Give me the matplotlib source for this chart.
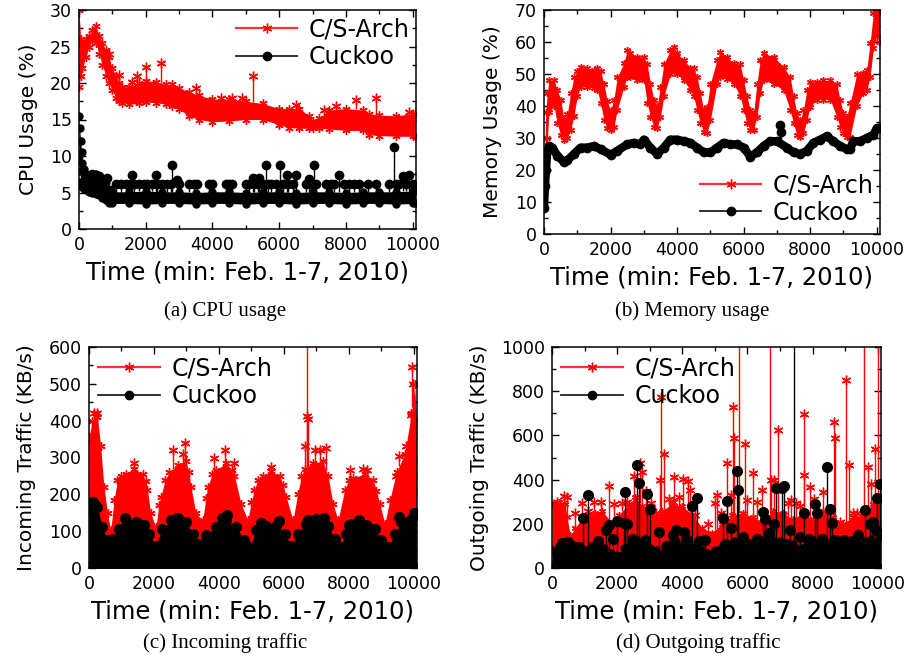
import numpy as np
import matplotlib
matplotlib.use('Agg')
import matplotlib.pyplot as plt
from matplotlib.lines import Line2D
from matplotlib.ticker import MultipleLocator

plt.rcParams['font.family'] = ['DejaVu Sans']

# ---------------- (a) CPU usage (%) ----------------
cpu_cs_t = [0, 50, 100, 200, 300, 400, 500, 600, 700, 800, 900, 1000, 1100, 1200, 1300, 1500, 1800, 2000,
            2300, 2600, 2800, 3000, 3300, 3600, 4000, 4500, 5000, 5500, 6000, 6300, 6600, 6900, 7000, 7200,
            7500, 8000, 8500, 8700, 9000, 9500, 10000, 10080]
cpu_cs_hi = [30, 26, 25.5, 26, 26.5, 27.3, 27.8, 26.5, 25.5, 24.5, 23.5, 22, 21, 20, 19.5, 19.5, 20, 20.3,
             20.2, 19.8, 19.8, 19.3, 18.8, 18.3, 17.8, 17.8, 17.5, 17.2, 16.5, 16.5, 16.5, 15.5, 14.8, 15.2,
             16.3, 16.5, 16.3, 15.8, 15.6, 15.5, 15.8, 15.8]
cpu_cs_lo = [19.5, 21, 22, 23.5, 25, 25.8, 25.5, 24, 22.5, 21, 20, 19, 18, 17.6, 17.3, 17.1, 17.2, 17.4,
             17.3, 17.1, 16.9, 16.4, 15.5, 15, 14.7, 14.8, 15, 15, 14.3, 13.9, 13.8, 13.8, 13.8, 13.8,
             13.7, 13.5, 13.5, 12.9, 12.8, 12.7, 12.7, 12.7]
cpu_cs_spk_t = [900, 1200, 1600, 1750, 2000, 2450, 3500, 4250, 4600, 4900, 5200, 6500, 7350, 7700, 8300, 8900, 9900]
cpu_cs_spk_v = [24, 21.1, 20.2, 21, 22.2, 22.8, 19.3, 18, 17.9, 17.9, 21, 17, 16.3, 16.8, 17.7, 18, 16]

cpu_ck_t = [0, 20, 50, 80, 100, 150, 200, 300, 400, 500, 600, 700, 800, 900, 1000, 1500, 2000, 2500,
            3000, 3500, 4000, 4500, 5000, 5500, 6000, 6500, 7000, 7500, 8000, 8500, 9000, 9500, 10000, 10080]
cpu_ck_hi = [15.5, 13.8, 12, 10.5, 9, 8.2, 7.5, 7, 7.2, 7.5, 7, 6.8, 6.5, 5.5, 5.1, 5.1, 5.2, 5.1,
             5.1, 5.0, 5.1, 5.1, 5.0, 5.1, 5.1, 5.0, 5.1, 5.1, 5.0, 5.1, 5.1, 5.1, 5.2, 5.2]
cpu_ck_lo = [10, 8, 6.5, 6, 5.8, 5.5, 5.3, 5.1, 5, 4.8, 4.6, 4.3, 4, 3.6, 3.5, 3.5, 3.4, 3.5,
             3.5, 3.4, 3.5, 3.5, 3.4, 3.5, 3.5, 3.4, 3.5, 3.5, 3.4, 3.5, 3.5, 3.4, 3.5, 3.5]
cpu_ck_spk_t = [400, 600, 850, 1100, 1250, 1400, 1550, 1600, 1650, 1800, 1950, 2050, 2200, 2320, 2350, 2500,
                2650, 2750, 2800, 2950, 3000, 3300, 3450, 3550, 3900, 4000, 4400, 4500, 4600, 5000, 5100,
                5200, 5250, 5350, 5400, 5500, 5600, 5650, 5750, 5900, 6030, 6100, 6220, 6250, 6400, 6500,
                6800, 6900, 6950, 7030, 7100, 7400, 7550, 7650, 7800, 7950, 8100, 8250, 8400, 8650, 8900,
                9300, 9430, 9500, 9600, 9700, 9800, 9900, 10000]
cpu_ck_spk_v = [7.6, 7.2, 7.0, 6.2, 6.2, 6.2, 6.2, 7.4, 6.2, 6.2, 6.2, 6.2, 6.2, 7.4, 6.2, 6.2,
                6.2, 6.2, 8.8, 6.7, 6.2, 6.2, 6.2, 6.2, 6.2, 6.2, 6.2, 6.2, 6.2, 6.2, 6.2,
                7.0, 6.2, 6.2, 7.0, 6.2, 8.8, 6.2, 6.2, 6.2, 8.8, 6.2, 7.4, 6.2, 6.2, 7.4,
                6.2, 6.8, 6.2, 8.8, 6.2, 6.2, 6.2, 6.2, 7.4, 6.2, 6.2, 6.2, 6.2, 6.2, 6.2,
                6.2, 11.3, 6.2, 6.2, 7.2, 6.2, 7.4, 6.2]

# ---------------- (b) Memory usage (%) ----------------
mem_cs_t = [0, 50, 100, 150, 300, 400, 500, 600, 700, 800, 900, 1000, 1100, 1300, 1500, 1600, 1700, 1800,
            1900, 2000, 2100, 2200, 2400, 2500, 2600, 2800, 3000, 3100, 3200, 3300, 3400, 3500, 3600, 3800,
            3900, 4000, 4200, 4400, 4500, 4600, 4700, 4800, 4900, 5000, 5200, 5300, 5500, 5700, 5900, 6000,
            6100, 6200, 6300, 6400, 6500, 6600, 6900, 7200, 7400, 7500, 7600, 7700, 7800, 7900, 8000, 8200,
            8400, 8600, 8800, 8900, 9000, 9100, 9200, 9400, 9600, 9700, 9800, 9900, 10000, 10080]
mem_cs_hi = [12, 38, 44, 48, 48, 45, 42, 36, 37.5, 44, 49, 51, 52.3, 51.8, 51.3, 51.8, 51, 47,
             41.5, 38.7, 41.9, 49, 53.3, 57.5, 56.5, 55.4, 55.4, 53, 47, 42, 40, 46, 53, 57.5,
             58.5, 56.5, 54.4, 52, 52, 49, 44, 38.7, 39.8, 47, 54.4, 57, 55.4, 53.3, 53, 48,
             43, 38.7, 37.7, 47, 54.4, 56.5, 55.4, 52.3, 49, 43, 37.7, 35.6, 38.7, 45, 47.6, 47.6,
             48, 48, 47, 41.9, 37.7, 36.7, 40.8, 50, 50.2, 51.3, 59.6, 69, 70, 69]
mem_cs_lo = [8, 20, 30, 38, 40, 34.6, 31, 29.5, 30, 32.5, 37, 43, 46, 46, 45.5, 45, 41, 35.6,
             33, 32.5, 33.5, 38.7, 46, 49, 49, 48, 48, 41, 36.7, 33.5, 33, 36.7, 43, 50,
             51, 50, 48, 45, 43, 38.7, 34.6, 32, 31.5, 35.6, 47, 49, 48.5, 47, 43, 38.7,
             34.6, 32.5, 32.5, 36.7, 44, 48, 47, 45, 38.7, 34.6, 31, 30.4, 31.5, 35.6, 39.8, 42,
             42, 42, 36.7, 33.5, 31.5, 30.4, 30.4, 40, 44, 45, 49, 58, 62, 60]

mem_ck_t = [0, 30, 60, 100, 150, 250, 400, 600, 700, 900, 1100, 1300, 1500, 1700, 2000, 2200, 2500, 2700,
            2900, 3000, 3200, 3400, 3600, 3800, 4000, 4200, 4400, 4600, 4800, 5000, 5200, 5400, 5600, 5800,
            6000, 6200, 6400, 6600, 6800, 7000, 7300, 7500, 7700, 7900, 8100, 8300, 8500, 8700, 8900, 9100,
            9200, 9300, 9500, 9700, 9900, 10000, 10080]
mem_ck_v = [8, 15, 20, 26, 27.5, 27, 24.5, 22.5, 23, 25, 27, 27, 27.5, 26.5, 24.8, 26, 28, 28.5,
            28, 29.5, 27, 25, 27, 29.5, 29.5, 29, 28.5, 27, 25.5, 25.5, 27, 28.5, 28, 28,
            27, 24.2, 25.5, 27.5, 29, 29, 27, 25.5, 25, 26, 28.5, 29.5, 30.5, 29, 27.5, 26.5,
            26.5, 29, 29, 30, 31, 33, 33]
mem_ck_spk_t = [7100, 7130]
mem_ck_spk_v = [34.2, 32.0]

# ---------------- (c) Incoming traffic (KB/s) ----------------
in_cs_t = [0, 100, 260, 360, 460, 570, 670, 770, 875, 1000, 1130, 1390, 1650, 1750, 1800, 1900, 2060, 2150,
           2210, 2350, 2470, 2730, 2980, 3080, 3140, 3290, 3500, 3600, 3650, 3800, 3910, 4220, 4400, 4480,
           4680, 4890, 5000, 5090, 5200, 5350, 5610, 5870, 5980, 6070, 6280, 6430, 6540, 6640, 6900, 7200,
           7360, 7510, 7670, 7870, 8000, 8130, 8490, 8750, 8850, 8950, 9110, 9260, 9470, 9720, 9930, 10030,
           10080]
in_cs_v = [355, 400, 410, 330, 220, 148, 102, 184, 238, 250, 255, 270, 255, 235, 211, 148, 111, 170,
           193, 240, 260, 280, 290, 260, 220, 148, 130, 190, 220, 255, 265, 285, 265, 250,
           175, 130, 180, 211, 240, 250, 262, 250, 225, 193, 130, 202, 250, 270, 285, 290,
           250, 175, 130, 211, 240, 245, 255, 240, 210, 175, 120, 184, 260, 310, 420, 500,
           400]
in_cs_spk_t = [150, 260, 1400, 2600, 2900, 2950, 3850, 4200, 4450, 5600, 6650, 6700, 6710, 6750, 6950,
               7100, 7300, 8050, 8450, 8550, 9450, 9550, 9750, 9900, 9950, 9970]
in_cs_spk_v = [420, 420, 285, 320, 310, 340, 300, 320, 285, 275, 330, 412, 650, 405, 320,
               320, 325, 265, 270, 265, 250, 305, 330, 415, 545, 500]

in_ck_t = [0, 100, 260, 410, 570, 720, 930, 1180, 1440, 1700, 1850, 2060, 2260, 2520, 2730, 2980, 3190,
           3400, 3600, 3910, 4220, 4530, 4780, 4940, 5150, 5450, 5760, 6020, 6230, 6430, 6690, 7100, 7360,
           7560, 7720, 7920, 8230, 8540, 8800, 9000, 9210, 9420, 9620, 9880, 10080]
in_ck_v = [157, 175, 166, 111, 75, 80, 107, 122, 125, 116, 93, 61, 107, 130, 135, 125, 93,
           66, 89, 111, 130, 111, 75, 57, 102, 115, 115, 93, 61, 93, 120, 125, 115,
           80, 57, 93, 115, 118, 107, 75, 57, 93, 125, 130, 145]
in_ck_spk_t = [110, 160, 1100, 1550, 2700, 4100, 4250, 5300, 5850, 6750, 7000, 7250, 8000, 8100, 8300,
               8600, 9550, 10000]
in_ck_spk_v = [180, 175, 135, 120, 137, 135, 145, 122, 127, 130, 132, 137, 117, 120, 130, 112, 138, 148]

# ---------------- (d) Outgoing traffic (KB/s) ----------------
out_cs_t = [0, 200, 400, 460, 560, 720, 920, 1130, 1330, 1540, 1850, 2050, 2360, 2560, 2770, 3080, 3390,
            3690, 4000, 4310, 4620, 4920, 5230, 5540, 5850, 6160, 6460, 6770, 7080, 7390, 7700, 8000,
            8310, 8620, 8930, 9230, 9540, 9850, 10080]
out_cs_v = [290, 300, 290, 230, 150, 180, 230, 240, 250, 260, 200, 240, 290, 320, 280, 230, 260,
            290, 280, 240, 180, 160, 200, 240, 250, 230, 210, 260, 250, 220, 250, 220,
            260, 230, 200, 230, 240, 290, 310]
out_cs_spk_t = [150, 370, 450, 700, 930, 1100, 1300, 1500, 1750, 1900, 2160, 2300, 2520, 2700, 2760, 2900,
                3030, 3200, 3310, 3340, 3440, 3600, 3720, 3750, 3900, 4010, 4160, 4230, 4400, 4800, 5010,
                5050, 5200, 5360, 5500, 5560, 5580, 5750, 5910, 6000, 6160, 6300, 6450, 6500, 6690, 6720,
                6830, 6950, 7100, 7260, 7340, 7490, 7600, 7730, 7750, 7930, 8050, 8320, 8450, 8670, 8700,
                8850, 9030, 9110, 9240, 9350, 9570, 9700, 9800, 9920, 10000]
out_cs_spk_v = [300, 327, 320, 250, 292, 260, 300, 300, 370, 290, 292, 300, 417, 477, 435, 350,
                292, 250, 398, 774, 515, 310, 300, 413, 320, 402, 393, 352, 240, 200, 292,
                330, 250, 473, 330, 729, 586, 1100, 563, 307, 431, 300, 355, 250, 1100, 398,
                400, 623, 240, 292, 307, 292, 280, 420, 699, 367, 310, 342, 250, 661, 590,
                210, 852, 465, 247, 250, 1100, 455, 380, 538, 1100]

out_ck_t = [0, 200, 400, 600, 800, 1000, 1200, 1400, 1600, 1800, 2000, 2200, 2400, 2600, 2800, 3000, 3200,
            3400, 3600, 3800, 4000, 4200, 4400, 4600, 4800, 5000, 5200, 5400, 5600, 5800, 6000, 6200,
            6400, 6600, 6800, 7000, 7200, 7400, 7600, 7800, 8000, 8200, 8400, 8600, 8800, 9000, 9200,
            9400, 9600, 9800, 10080]
out_ck_v = [80, 100, 110, 90, 70, 80, 100, 110, 90, 70, 60, 90, 110, 120, 100, 90, 80,
            70, 110, 120, 100, 110, 100, 80, 70, 80, 90, 110, 120, 110, 90, 80,
            110, 130, 120, 120, 100, 110, 90, 100, 120, 120, 110, 120, 100, 90, 100,
            110, 120, 130, 140]
out_ck_spk_t = [300, 360, 500, 660, 820, 960, 1090, 1400, 1650, 1750, 1880, 2010, 2210, 2240, 2300, 2450,
                2600, 2670, 2850, 2930, 3000, 3270, 3500, 3700, 3800, 4060, 4100, 4290, 4450, 4500, 4700,
                5240, 5300, 5360, 5500, 5670, 5710, 5850, 6100, 6300, 6470, 6550, 6650, 6800, 6880, 7050,
                7120, 7200, 7320, 7440, 7600, 7750, 7900, 8080, 8150, 8300, 8450, 8520, 8600, 8700, 8950,
                9200, 9400, 9600, 9750, 9850, 9950, 9980, 10080]
out_ck_spk_v = [111, 115, 119, 100, 95, 224, 330, 120, 170, 195, 130, 214, 202, 345, 200, 130,
                465, 385, 125, 334, 267, 164, 100, 150, 170, 161, 130, 280, 315, 120, 125,
                227, 110, 303, 180, 438, 352, 140, 110, 130, 254, 220, 160, 200, 364, 364,
                370, 110, 172, 1100, 140, 247, 130, 289, 250, 130, 455, 269, 205, 125, 125,
                120, 150, 262, 199, 210, 170, 315, 380]

# ---------------- drawing ----------------
RED = '#ff0000'
STAR = (6, 2, 0)
W, H = 908, 663
fig = plt.figure(figsize=(W / 100, H / 100), dpi=100)


def add_axes(l, r, t, b):
    return fig.add_axes([l / W, 1 - b / H, (r - l) / W, (b - t) / H])


def style(ax, ymax, ymaj, ymin, ylabel):
    ax.set_xlim(0, 10100)
    ax.set_ylim(0, ymax)
    ax.xaxis.set_major_locator(MultipleLocator(2000))
    ax.xaxis.set_minor_locator(MultipleLocator(1000))
    ax.yaxis.set_major_locator(MultipleLocator(ymaj))
    ax.yaxis.set_minor_locator(MultipleLocator(ymin))
    ax.tick_params(which='both', direction='in', top=True, right=True, width=1)
    ax.tick_params(which='major', length=5, labelsize=12.5, pad=5)
    ax.tick_params(which='minor', length=3)
    for s in ax.spines.values():
        s.set_linewidth(1.1)
    ax.set_xlabel('Time (min: Feb. 1-7, 2010)', fontsize=17.5, labelpad=5)
    ax.set_ylabel(ylabel, fontsize=14.5, labelpad=9)


def band(ax, t, lo, hi, color, marker, ms, z):
    ax.fill_between(t, lo, hi, color=color, lw=0, zorder=z)
    ax.plot(t, hi, ls='none', marker=marker, color=color, ms=ms, mew=1, zorder=z)
    ax.plot(t, lo, ls='none', marker=marker, color=color, ms=ms, mew=1, zorder=z)


def spikes(ax, t, v, base_t, base_v, color, marker, ms, z):
    b = np.interp(t, base_t, base_v)
    ax.vlines(t, b, v, color=color, lw=1, zorder=z)
    ax.plot(t, v, ls='none', marker=marker, color=color, ms=ms, mew=1, zorder=z)


def legend(ax, **kw):
    h = [Line2D([], [], color='#ff3030', marker=STAR, ms=7, mew=1, mec=RED, lw=1.6),
         Line2D([], [], color='#202020', marker='o', ms=6, lw=1.3, mfc='black', mec='black')]
    ax.legend(h, ['C/S-Arch', 'Cuckoo'], frameon=False, fontsize=17, handlelength=2.6,
              handletextpad=0.5, labelspacing=0.15, borderpad=0.2, borderaxespad=0.2, **kw)


# (a)
ax = add_axes(79, 416, 10, 229)
band(ax, cpu_cs_t, cpu_cs_lo, cpu_cs_hi, RED, STAR, 6, 2)
spikes(ax, cpu_cs_spk_t, cpu_cs_spk_v, cpu_cs_t, cpu_cs_hi, RED, STAR, 7, 2)
band(ax, cpu_ck_t, cpu_ck_lo, cpu_ck_hi, 'black', 'o', 5, 3)
spikes(ax, cpu_ck_spk_t, cpu_ck_spk_v, cpu_ck_t, cpu_ck_hi, 'black', 'o', 6, 3)
style(ax, 30, 5, 2.5, 'CPU Usage (%)')
legend(ax, loc='upper right', bbox_to_anchor=(1.01, 1.01))

# (b)
ax = add_axes(544, 880, 10, 234)
band(ax, mem_cs_t, mem_cs_lo, mem_cs_hi, RED, STAR, 5, 2)
ax.plot(mem_ck_t, mem_ck_v, color='black', lw=6, marker='o', ms=6, solid_capstyle='round', zorder=3)
spikes(ax, mem_ck_spk_t, mem_ck_spk_v, mem_ck_t, mem_ck_v, 'black', 'o', 6, 3)
style(ax, 70, 10, 5, 'Memory Usage (%)')
legend(ax, loc='lower right', bbox_to_anchor=(1.01, 0.0))

# (c)
ax = add_axes(89, 417, 347, 568)
zeros_c = [0] * len(in_cs_t)
band(ax, in_cs_t, zeros_c, in_cs_v, RED, STAR, 6, 2)
spikes(ax, in_cs_spk_t, in_cs_spk_v, in_cs_t, in_cs_v, RED, STAR, 7, 2)
zeros_k = [0] * len(in_ck_t)
band(ax, in_ck_t, zeros_k, in_ck_v, 'black', 'o', 7, 3)
spikes(ax, in_ck_spk_t, in_ck_spk_v, in_ck_t, in_ck_v, 'black', 'o', 7, 3)
style(ax, 600, 100, 50, 'Incoming Traffic (KB/s)')
legend(ax, loc='upper left', bbox_to_anchor=(0.0, 1.0))

# (d)
ax = add_axes(552, 881, 347, 568)
zeros_d = [0] * len(out_cs_t)
band(ax, out_cs_t, zeros_d, out_cs_v, RED, STAR, 5, 2)
spikes(ax, out_cs_spk_t, out_cs_spk_v, out_cs_t, out_cs_v, RED, STAR, 7, 2)
zeros_e = [0] * len(out_ck_t)
band(ax, out_ck_t, zeros_e, out_ck_v, 'black', 'o', 5, 3)
spikes(ax, out_ck_spk_t, out_ck_spk_v, out_ck_t, out_ck_v, 'black', 'o', 7, 3)
style(ax, 1000, 200, 100, 'Outgoing Traffic (KB/s)')
legend(ax, loc='upper left', bbox_to_anchor=(0.0, 1.0))

cap = dict(ha='center', va='center', family='Liberation Serif', fontsize=15)
fig.text(225 / W, 1 - 311 / H, '(a) CPU usage', **cap)
fig.text(692 / W, 1 - 311 / H, '(b) Memory usage', **cap)
fig.text(225 / W, 1 - 643 / H, '(c) Incoming traffic', **cap)
fig.text(698 / W, 1 - 643 / H, '(d) Outgoing traffic', **cap)

fig.savefig('out.png', dpi=100)
